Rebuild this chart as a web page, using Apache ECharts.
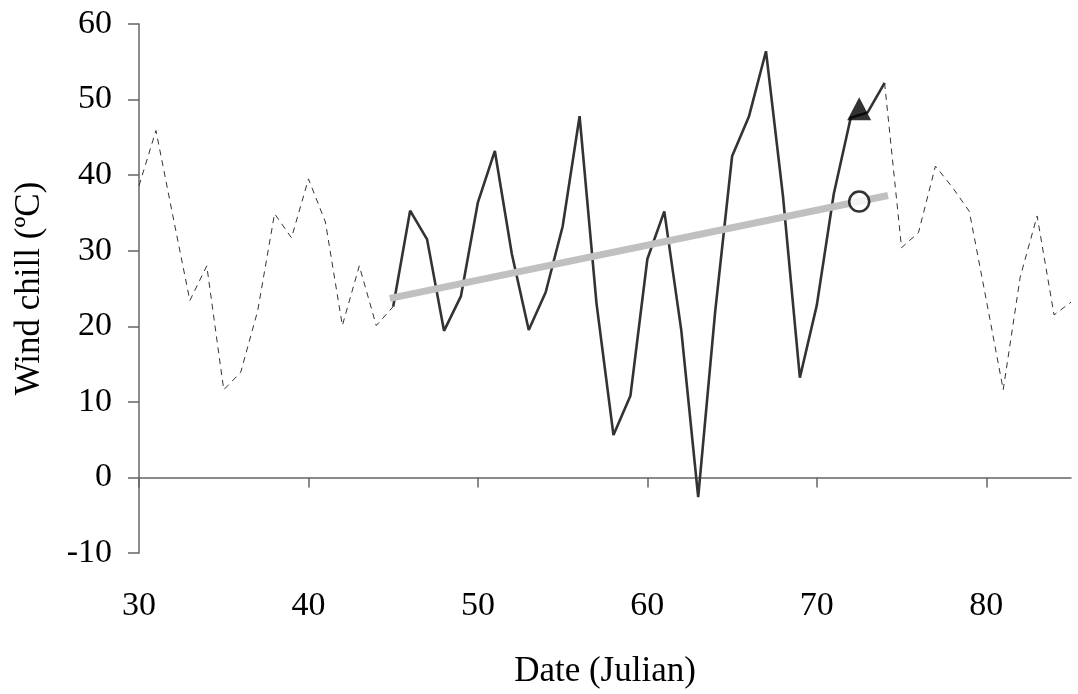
<!DOCTYPE html>
<html>
<head>
<meta charset="utf-8">
<script src="https://cdn.jsdelivr.net/npm/echarts@6/dist/echarts.min.js"></script>
<style>
  html, body { margin: 0; padding: 0; background: #fff; }
  #chart { width: 1078px; height: 694px; }
</style>
</head>
<body>
<div id="chart"></div>
<script>
// Julian day + wind chill readings
const daysBefore = [30, 31, 32, 33, 34, 35, 36, 37, 38, 39, 40, 41, 42, 43, 44, 45]
const chillBefore = [38.6, 45.9, 34.6, 23.4, 28.0, 11.6, 13.9, 22.0, 34.9, 31.7, 39.5, 33.8, 20.1, 28.0, 20.1, 22.6]

const daysDuring = [45, 46, 47, 48, 49, 50, 51, 52, 53, 54, 55, 56, 57, 58, 59, 60, 61, 62, 63, 64, 65, 66, 67, 68, 69, 70, 71, 72, 73, 74]
const chillDuring = [22.6, 35.3, 31.5, 19.4, 24.0, 36.4, 43.2, 29.6, 19.5, 24.5, 33.2, 47.8, 23.0, 5.6, 10.8, 28.9, 35.2, 19.5, -2.6, 21.9, 42.5, 47.8, 56.4, 37.3, 13.2, 22.8, 37.5, 47.6, 48.3, 52.2]

const daysAfter = [74, 75, 76, 77, 78, 79, 80, 81, 82, 83, 84, 85]
const chillAfter = [52.2, 30.4, 32.4, 41.2, 38.4, 35.2, 23.5, 11.6, 26.5, 34.6, 21.5, 23.2]

const trendDays = [44.8, 74.2]
const trendChill = [23.7, 37.3]

const peakPoint = [72.5, 48.8]   // triangle
const trendPoint = [72.5, 36.5]  // open circle

const xTicks = [30, 40, 50, 60, 70, 80]
const yTicks = [-10, 0, 10, 20, 30, 40, 50, 60]

const zip = (xs, ys) => xs.map((x, i) => [x, ys[i]])
const font = '"Liberation Serif", "Times New Roman", serif'
const axisCol = '#666'

const chart = echarts.init(document.getElementById('chart'))
chart.setOption({
  backgroundColor: '#fff',
  animation: false,
  grid: { left: 139, right: 7, top: 24, bottom: 139 },
  xAxis: {
    type: 'value', min: 30, max: 85, interval: 10,
    name: 'Date (Julian)', nameLocation: 'middle', nameGap: 101,
    nameTextStyle: { fontFamily: font, fontSize: 35, color: '#000' },
    axisLine: { show: true, lineStyle: { color: axisCol, width: 1.5 } },
    axisTick: { show: true, length: 10, customValues: xTicks, lineStyle: { color: axisCol, width: 1.5 } },
    axisLabel: { customValues: xTicks, margin: 36, fontFamily: font, fontSize: 34, color: '#000' },
    splitLine: { show: false },
  },
  yAxis: {
    type: 'value', min: -10, max: 60, interval: 10,
    name: 'Wind chill (ºC)', nameLocation: 'middle', nameGap: 92,
    nameTextStyle: { fontFamily: font, fontSize: 35, color: '#000' },
    axisLine: { show: true, lineStyle: { color: axisCol, width: 1.5 } },
    axisTick: { show: true, length: 11, customValues: yTicks, lineStyle: { color: axisCol, width: 1.5 } },
    axisLabel: { customValues: yTicks, margin: 27, fontFamily: font, fontSize: 34, color: '#000' },
    splitLine: { show: false },
  },
  series: [
    { type: 'line', data: zip(daysBefore, chillBefore), symbol: 'none', z: 2,
      lineStyle: { color: '#333', width: 1, type: [6, 5] } },
    { type: 'line', data: zip(daysAfter, chillAfter), symbol: 'none', z: 2,
      lineStyle: { color: '#333', width: 1, type: [6, 5] } },
    { type: 'line', data: zip(daysDuring, chillDuring), symbol: 'none', z: 3,
      lineStyle: { color: '#333', width: 2.6 } },
    { type: 'line', data: zip(trendDays, trendChill), symbol: 'none', z: 4,
      lineStyle: { color: '#c0c0c0', width: 7, cap: 'butt' } },
    { type: 'scatter', data: [trendPoint], symbol: 'circle', symbolSize: 20, z: 5,
      itemStyle: { color: '#fff', borderColor: '#000', borderWidth: 2.5 } },
    { type: 'scatter', data: [peakPoint], symbol: 'triangle', symbolSize: [24, 23], z: 6,
      itemStyle: { color: '#000' } },
  ],
})
</script>
</body>
</html>
